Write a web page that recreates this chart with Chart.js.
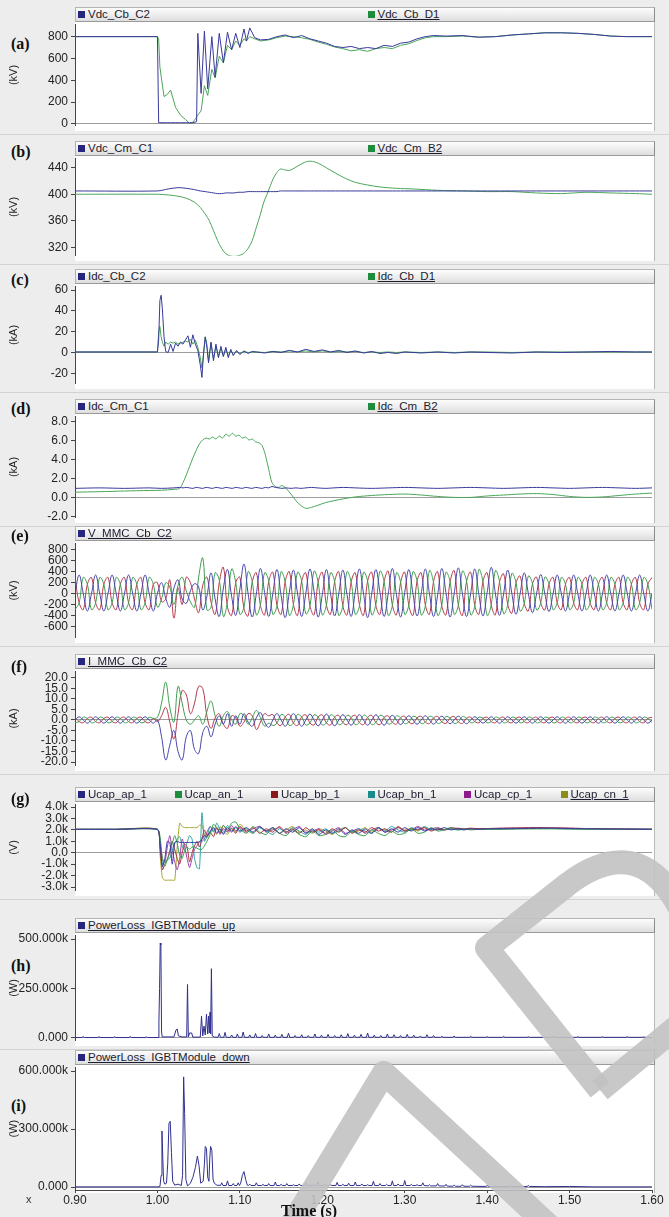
<!DOCTYPE html>
<html>
<head>
<meta charset="utf-8">
<script src="https://cdn.jsdelivr.net/npm/chart.js@4.4.1/dist/chart.umd.min.js"></script>
<style>
  body { margin: 0; background: #ececec; }
  #page { position: relative; width: 669px; height: 1217px; overflow: hidden; background: #ededed;
          font-family: "Liberation Sans", Arial, sans-serif; }
  .plotbg { position: absolute; left: 75px; width: 579px; background: #fff; border-right: 1px solid #b8b8b8; }
  .sep { position: absolute; left: 0; width: 669px; height: 1px; background: #d2d2d2; }
  .legend { position: absolute; left: 75px; width: 578px; height: 13px;
            background: linear-gradient(#fdfdfd, #dedede); border: 1px solid #b4b4b4;
            border-right-color: #8c8c8c; border-bottom-color: #9a9a9a; }
  .item { position: absolute; top: 0; font-size: 11.5px; line-height: 13px; color: #1c1c30; white-space: nowrap; }
  .item i { display: inline-block; width: 7px; height: 7px; margin-right: 3px; }
  .item.last span { text-decoration: underline; }
  .tag { position: absolute; left: 11px; font: bold 16px "Liberation Serif", "Times New Roman", serif; color: #111; }
  .box { position: absolute; left: 0; width: 669px; }
  .xmark { position: absolute; left: 26px; top: 1193px; font-size: 11px; color: #333; }
  .xtitle { position: absolute; left: 281px; top: 1203px; font: bold 16px/16px "Liberation Serif", "Times New Roman", serif; color: #111; }
  #stamp { position: absolute; left: 0; top: 0; pointer-events: none; }
</style>
</head>
<body>
<div id="page"></div>
<script>
// time axis (s)
const xTicks = [0.9, 1.0, 1.1, 1.2, 1.3, 1.4, 1.5, 1.6];
const xTickLabels = ['0.90', '1.00', '1.10', '1.20', '1.30', '1.40', '1.50', '1.60'];

// (a) DC voltage at Cb (kV)
const tA = [0.900, 1.000, 1.0015, 1.003, 1.008, 1.012, 1.016, 1.022, 1.028, 1.034,
  1.039, 1.043, 1.0475, 1.049, 1.053, 1.057, 1.061, 1.066, 1.070, 1.075,
  1.080, 1.085, 1.090, 1.095, 1.100, 1.105, 1.108, 1.112, 1.118, 1.125,
  1.135, 1.145, 1.155, 1.165, 1.175, 1.185, 1.195, 1.205, 1.215, 1.225,
  1.235, 1.245, 1.255, 1.265, 1.275, 1.285, 1.295, 1.305, 1.315, 1.325,
  1.335, 1.350, 1.370, 1.390, 1.410, 1.430, 1.450, 1.470, 1.490, 1.510,
  1.530, 1.550, 1.570, 1.600];
const vdcCbC2 = [800, 800, 10, 10, 10, 10, 10, 10, 10, 10,
  10, 10, 20, 830, 280, 850, 320, 800, 430, 830,
  560, 840, 680, 830, 700, 870, 760, 880, 790, 770,
  775, 800, 815, 790, 810, 780, 760, 740, 710, 700,
  710, 690, 700, 690, 720, 710, 740, 750, 780, 800,
  810, 805, 810, 795, 800, 815, 825, 835, 835, 830,
  820, 805, 800, 800];
const vdcCbD1 = [800, 800, 780, 520, 250, 270, 310, 150, 80, 40,
  5, 15, 60, 80, 120, 350, 260, 500, 420, 620,
  560, 720, 680, 760, 720, 780, 760, 800, 780, 760,
  770, 790, 805, 800, 790, 775, 750, 730, 705, 690,
  670, 680, 665, 690, 700, 690, 720, 735, 765, 790,
  800, 800, 805, 795, 800, 815, 825, 835, 835, 830,
  820, 805, 800, 800];
const ticksA = [0, 200, 400, 600, 800];
const tickLabelsA = ['0', '200', '400', '600', '800'];

// (b) DC voltage at Cm (kV)
const tB = [0.90, 1.00, 1.013, 1.025, 1.035, 1.045, 1.052, 1.058, 1.063, 1.068,
  1.073, 1.078, 1.083, 1.088, 1.093, 1.098, 1.104, 1.110, 1.115, 1.120,
  1.125, 1.129, 1.133, 1.137, 1.141, 1.145, 1.149, 1.154, 1.160, 1.168,
  1.178, 1.186, 1.195, 1.205, 1.216, 1.228, 1.240, 1.255, 1.27, 1.29,
  1.31, 1.34, 1.37, 1.40, 1.43, 1.46, 1.49, 1.52, 1.55, 1.58, 1.60];
const vdcCmC1 = [405, 405, 408, 410, 409, 407, 405, 404, 403, 402,
  401, 401, 402, 402, 402, 403, 403, 404, 404, 404,
  404, 404, 404, 404, 404, 404, 405, 405, 405, 405,
  405, 405, 405, 405, 405, 405, 405, 405, 405, 405,
  405, 405, 405, 405, 405, 405, 405, 405, 405, 405, 405];
const vdcCmB2 = [400, 400, 399, 397, 394, 388, 380, 370, 360, 345,
  330, 318, 310, 307, 306, 307, 310, 318, 330, 350,
  370, 388, 400, 413, 425, 433, 438, 437, 436, 441,
  448, 450, 447, 440, 432, 424, 418, 414, 411, 409,
  408, 406, 405, 404, 404, 402, 401, 403, 402, 401, 400];
const ticksB = [320, 360, 400, 440];
const tickLabelsB = ['320', '360', '400', '440'];

// (c) DC current at Cb (kA)
const tC = [0.900, 1.000, 1.0015, 1.003, 1.0045, 1.006, 1.008, 1.010, 1.013, 1.016,
  1.019, 1.022, 1.025, 1.028, 1.031, 1.034, 1.037, 1.040, 1.043, 1.046,
  1.049, 1.052, 1.054, 1.056, 1.058, 1.060, 1.062, 1.065, 1.068, 1.071,
  1.074, 1.077, 1.080, 1.083, 1.086, 1.089, 1.092, 1.096, 1.100, 1.105,
  1.110, 1.115, 1.120, 1.130, 1.140, 1.150, 1.160, 1.170, 1.180, 1.190,
  1.200, 1.210, 1.220, 1.230, 1.240, 1.250, 1.260, 1.270, 1.280, 1.290,
  1.300, 1.320, 1.340, 1.360, 1.380, 1.400, 1.430, 1.460, 1.490, 1.520,
  1.550, 1.580, 1.600];
const idcCbC2 = [0.5, 0.5, 12, 50, 55, 42, 15, 1, 0, 8,
  1, 9, 6, 10, 8, 12, 16, 5, 17, 8,
  2, -12, -24, 0, 15, 5, -10, 10, -8, 8,
  -5, 6, -4, 5, -5, 3, -3, 2, -2, 1.5,
  -1, 1, 0.5, -0.5, 1, 0, 2, 0.5, 3, 1,
  2.5, 0.5, 2, 0, 1.5, -0.5, 1, -1, 0, -1,
  0.5, -0.5, 0.5, -0.5, 0.5, 0, -0.5, 0.5, 0, 0.5,
  1, 0.5, 0.5];
const idcCbD1 = [0.5, 0.5, 20, 25, 15, 10, 6, 10, 8, 10,
  9, 10, 8, 9, 10, 11, 10, 13, 8, 12,
  5, -5, -15, -2, 15, 8, -8, 9, -6, 6,
  -4, 4, -3, 3, -3, 2, -2, 1, -1, 1,
  0, 0.5, 0.5, 0, 1, 0.5, 1.5, 0.5, 1.5, 0.5,
  1.5, 0.5, 1, 0.5, 1, 0, 0.5, 0, 0.5, 0,
  0.5, 0, 0.5, 0, 0.5, 0.5, 0, 0.5, 0.5, 0.5,
  0.5, 0.5, 0.5];
const ticksC = [-20, 0, 20, 40, 60];
const tickLabelsC = ['-20', '0', '20', '40', '60'];

// (d) DC current at Cm (kA)
const tD = [0.90, 0.93, 0.96, 0.99, 1.005, 1.020, 1.027, 1.031, 1.035, 1.039,
  1.043, 1.047, 1.051, 1.055, 1.059, 1.063, 1.067, 1.071, 1.075, 1.079,
  1.083, 1.087, 1.091, 1.095, 1.099, 1.103, 1.107, 1.111, 1.115, 1.119,
  1.123, 1.127, 1.131, 1.135, 1.139, 1.143, 1.147, 1.151, 1.156, 1.162,
  1.168, 1.174, 1.180, 1.187, 1.194, 1.204, 1.214, 1.226, 1.24, 1.26,
  1.28, 1.30, 1.32, 1.34, 1.36, 1.38, 1.40, 1.42, 1.44, 1.46,
  1.48, 1.50, 1.52, 1.54, 1.56, 1.58, 1.60];
const idcCmC1 = [1.0, 1.05, 1.0, 1.05, 1.0, 1.05, 1.1, 1.05, 1.1, 1.05,
  1.0, 1.1, 1.05, 1.0, 1.1, 1.05, 1.0, 1.1, 1.05, 1.0,
  1.1, 1.05, 1.0, 1.1, 1.05, 1.0, 1.1, 1.05, 1.0, 1.1,
  1.05, 1.0, 1.1, 1.05, 1.2, 1.1, 1.05, 1.0, 1.05, 1.0,
  1.05, 1.0, 1.05, 1.1, 1.05, 1.0, 1.05, 1.1, 1.05, 1.0,
  1.05, 1.1, 1.05, 1.0, 1.05, 1.1, 1.05, 1.0, 1.05, 1.1,
  1.05, 1.0, 1.05, 1.1, 1.05, 1.0, 1.05];
const idcCmB2 = [0.6, 0.65, 0.72, 0.78, 0.8, 0.9, 1.0, 1.6, 2.4, 3.3,
  4.2, 5.0, 5.7, 6.1, 6.3, 6.2, 6.4, 6.2, 6.5, 6.3,
  6.7, 6.5, 6.8, 6.5, 6.6, 6.3, 6.4, 6.1, 6.2, 5.9,
  5.8, 5.5, 4.5, 3.0, 1.6, 1.2, 1.1, 1.3, 1.0, 0.4,
  -0.3, -0.8, -1.1, -1.0, -0.8, -0.5, -0.3, -0.1, 0.1, 0.25,
  0.35, 0.4, 0.3, 0.15, 0.05, 0.05, 0.2, 0.3, 0.4, 0.45,
  0.35, 0.15, 0.05, 0.1, 0.25, 0.4, 0.5];
const ticksD = [-2, 0, 2, 4, 6, 8];
const tickLabelsD = ['-2.0', '0.0', '2.0', '4.0', '6.0', '8.0'];

// (e), (f) three-phase AC quantities, sampled every 5 ms
const tAC = [0.900, 0.905, 0.910, 0.915, 0.920, 0.925, 0.930, 0.935, 0.940, 0.945,
  0.950, 0.955, 0.960, 0.965, 0.970, 0.975, 0.980, 0.985, 0.990, 0.995,
  1.000, 1.005, 1.010, 1.015, 1.020, 1.025, 1.030, 1.035, 1.040, 1.045,
  1.050, 1.055, 1.060, 1.065, 1.070, 1.075, 1.080, 1.085, 1.090, 1.095,
  1.100, 1.105, 1.110, 1.115, 1.120, 1.125, 1.130, 1.135, 1.140, 1.145,
  1.150, 1.155, 1.160, 1.165, 1.170, 1.175, 1.180, 1.185, 1.190, 1.195,
  1.200, 1.205, 1.210, 1.215, 1.220, 1.225, 1.230, 1.235, 1.240, 1.245,
  1.250, 1.255, 1.260, 1.265, 1.270, 1.275, 1.280, 1.285, 1.290, 1.295,
  1.300, 1.305, 1.310, 1.315, 1.320, 1.325, 1.330, 1.335, 1.340, 1.345,
  1.350, 1.355, 1.360, 1.365, 1.370, 1.375, 1.380, 1.385, 1.390, 1.395,
  1.400, 1.405, 1.410, 1.415, 1.420, 1.425, 1.430, 1.435, 1.440, 1.445,
  1.450, 1.455, 1.460, 1.465, 1.470, 1.475, 1.480, 1.485, 1.490, 1.495,
  1.500, 1.505, 1.510, 1.515, 1.520, 1.525, 1.530, 1.535, 1.540, 1.545,
  1.550, 1.555, 1.560, 1.565, 1.570, 1.575, 1.580, 1.585, 1.590, 1.595,
  1.600];

// (e) V_MMC_Cb_C2 (kV)
const vMmcA = [0, 340, 0, -320, 0, 340, 0, -320, 0, 340, 0, -320, 0, 340, 0, -320, 0, 340, 0, -320,
  0, 200, -80, -250, 100, 250, -100, -180, 50, 180, 120, -300, -50, 380, -100, -420, 100, 440, -50, -400,
  80, 540, 0, -430, 0, 460, 20, -420, 0, 440, -30, -440, 20, 430, 0, -420, 0, 450, 40, -430,
  -20, 440, 0, -410, 0, 430, -20, -420, 30, 450, 0, -440, 0, 440, 20, -420, 0, 460, -20, -430,
  20, 440, 0, -410, 0, 450, 0, -420, -20, 460, 20, -430, 0, 470, 0, -420, 0, 450, -20, -410,
  20, 480, 0, -400, 0, 430, 0, -380, 0, 380, 0, -350, 0, 350, 0, -330, 0, 340, 0, -320,
  0, 340, 0, -320, 0, 340, 0, -320, 0, 340, 0, -320, 0, 340, 0, -320, 0, 340, 0, -320,
  0];
const vMmcB = [-295, -170, 295, 170, -295, -170, 295, 170, -295, -170, 295, 170, -295, -170, 295, 170, -295, -170, 295, 170,
  -250, -100, 200, 120, -200, 150, 300, 50, -150, -250, 300, 650, -300, -250, 380, 250, -420, -150, 450, 200,
  -380, -250, 400, 220, -390, -200, 380, 230, -380, -230, 400, 210, -400, -200, 390, 230, -370, -230, 410, 200,
  -390, -210, 380, 220, -400, -220, 400, 210, -380, -230, 390, 230, -390, -200, 410, 220, -400, -220, 380, 210,
  -380, -210, 400, 230, -390, -230, 420, 200, -400, -210, 390, 220, -380, -220, 410, 230, -390, -230, 440, 210,
  -400, -200, 420, 220, -370, -200, 370, 200, -320, -180, 320, 185, -300, -170, 300, 175, -295, -170, 295, 170,
  -295, -170, 295, 170, -295, -170, 295, 170, -295, -170, 295, 170, -295, -170, 295, 170, -295, -170, 295, 170,
  -295];
const vMmcC = [295, -170, -295, 170, 295, -170, -295, 170, 295, -170, -295, 170, 295, -170, -295, 170, 295, -170, -295, 170,
  200, -150, -100, 250, -450, 100, -200, 300, 200, -100, -350, 150, 300, -150, -380, 200, 480, -250, -400, 200,
  300, -280, -410, 210, 380, -220, -390, 220, 390, -210, -380, 220, 400, -200, -400, 230, 380, -220, -390, 210,
  390, -210, -380, 220, 400, -230, -390, 210, 380, -200, -400, 230, 390, -220, -380, 220, 410, -210, -390, 200,
  390, -220, -400, 230, 380, -210, -380, 220, 400, -230, -390, 210, 420, -200, -400, 220, 390, -220, -380, 230,
  380, -210, -390, 210, 360, -200, -360, 190, 320, -180, -320, 175, 300, -170, -300, 170, 295, -170, -295, 170,
  295, -170, -295, 170, 295, -170, -295, 170, 295, -170, -295, 170, 295, -170, -295, 170, 295, -170, -295, 170,
  295];
const ticksE = [-600, -400, -200, 0, 200, 400, 600, 800];
const tickLabelsE = ['-600', '-400', '-200', '0', '200', '400', '600', '800'];

// (f) I_MMC_Cb_C2 (kA)
const iMmcA = [0, 1.5, 0, -1.5, 0, 1.5, 0, -1.5, 0, 1.5, 0, -1.5, 0, 1.5, 0, -1.5, 0, 1.5, 0, -1.5,
  0, -8, -19, -12, -5, -15, -19, -8, -5, -14, -16, -6, -3, -8, -2, 2, -2, 3, -3, 2,
  -2, 3, -1, -3, 1, 3.5, -1, -3.5, 0, 3, 0, -3, 0, 3, 0, -3, 0, 2.8, 0, -2.8,
  0, 2.8, 0, -2.8, 0, 2.5, 0, -2.5, 0, 2.5, 0, -2.5, 0, 2.5, 0, -2.5, 0, 2.2, 0, -2.2,
  0, 2, 0, -2, 0, 2, 0, -2, 0, 1.8, 0, -1.8, 0, 1.8, 0, -1.8, 0, 1.5, 0, -1.5,
  0, 1.5, 0, -1.5, 0, 1.5, 0, -1.5, 0, 1.5, 0, -1.5, 0, 1.5, 0, -1.5, 0, 1.5, 0, -1.5,
  0, 1.5, 0, -1.5, 0, 1.5, 0, -1.5, 0, 1.5, 0, -1.5, 0, 1.5, 0, -1.5, 0, 1.5, 0, -1.5,
  0];
const iMmcB = [-1.3, -0.75, 1.3, 0.75, -1.3, -0.75, 1.3, 0.75, -1.3, -0.75, 1.3, 0.75, -1.3, -0.75, 1.3, 0.75, -1.3, -0.75, 1.3, 0.75,
  1.3, 8, 18, 6, -1, 16, 8, 0, -2, 0, 2, -2, 4, 9, 2, -3, 2, 4, 0, -2,
  3, 2, -2, 1, 4.5, 1, -3, -1.5, -2.6, -1.5, 2.6, 1.5, -2.6, -1.5, 2.6, 1.5, -2.4, -1.4, 2.4, 1.4,
  -2.4, -1.4, 2.4, 1.4, -2.2, -1.25, 2.2, 1.25, -2.2, -1.25, 2.2, 1.25, -2.2, -1.25, 2.2, 1.25, -1.9, -1.1, 1.9, 1.1,
  -1.7, -1, 1.7, 1, -1.7, -1, 1.7, 1, -1.6, -0.9, 1.6, 0.9, -1.6, -0.9, 1.6, 0.9, -1.3, -0.75, 1.3, 0.75,
  -1.3, -0.75, 1.3, 0.75, -1.3, -0.75, 1.3, 0.75, -1.3, -0.75, 1.3, 0.75, -1.3, -0.75, 1.3, 0.75, -1.3, -0.75, 1.3, 0.75,
  -1.3, -0.75, 1.3, 0.75, -1.3, -0.75, 1.3, 0.75, -1.3, -0.75, 1.3, 0.75, -1.3, -0.75, 1.3, 0.75, -1.3, -0.75, 1.3, 0.75,
  -1.3];
const iMmcC = [1.3, -0.75, -1.3, 0.75, 1.3, -0.75, -1.3, 0.75, 1.3, -0.75, -1.3, 0.75, 1.3, -0.75, -1.3, 0.75, 1.3, -0.75, -1.3, 0.75,
  -0.8, 2, 6, -1, -9, 3, 14, 12, 3, 8, 16, 15, 2, -4, 1, 3, -2, -4, 2, 1,
  -3, -1, 3, 2, -4.5, -1, 3, 2, 2.6, -1.5, -2.6, 1.5, 2.6, -1.5, -2.6, 1.5, 2.4, -1.4, -2.4, 1.4,
  2.4, -1.4, -2.4, 1.4, 2.2, -1.25, -2.2, 1.25, 2.2, -1.25, -2.2, 1.25, 2.2, -1.25, -2.2, 1.25, 1.9, -1.1, -1.9, 1.1,
  1.7, -1, -1.7, 1, 1.7, -1, -1.7, 1, 1.6, -0.9, -1.6, 0.9, 1.6, -0.9, -1.6, 0.9, 1.3, -0.75, -1.3, 0.75,
  1.3, -0.75, -1.3, 0.75, 1.3, -0.75, -1.3, 0.75, 1.3, -0.75, -1.3, 0.75, 1.3, -0.75, -1.3, 0.75, 1.3, -0.75, -1.3, 0.75,
  1.3, -0.75, -1.3, 0.75, 1.3, -0.75, -1.3, 0.75, 1.3, -0.75, -1.3, 0.75, 1.3, -0.75, -1.3, 0.75, 1.3, -0.75, -1.3, 0.75,
  1.3];
const ticksF = [-20, -15, -10, -5, 0, 5, 10, 15, 20];
const tickLabelsF = ['-20.0', '-15.0', '-10.0', '-5.0', '0.0', '5.0', '10.0', '15.0', '20.0'];

// (g) sub-module capacitor voltages (values in kV, axis labelled in V with k suffix)
const tG = [0.90, 0.95, 1.000, 1.003, 1.006, 1.009, 1.012, 1.015, 1.018, 1.021,
  1.024, 1.027, 1.030, 1.033, 1.036, 1.039, 1.042, 1.045, 1.048, 1.051,
  1.054, 1.057, 1.060, 1.064, 1.068, 1.072, 1.076, 1.080, 1.085, 1.090,
  1.095, 1.100, 1.108, 1.116, 1.124, 1.132, 1.140, 1.148, 1.156, 1.164,
  1.172, 1.180, 1.188, 1.196, 1.204, 1.212, 1.220, 1.228, 1.236, 1.244,
  1.252, 1.260, 1.268, 1.276, 1.284, 1.292, 1.300, 1.308, 1.316, 1.324,
  1.332, 1.340, 1.348, 1.356, 1.364, 1.372, 1.380, 1.390, 1.40, 1.42,
  1.44, 1.46, 1.48, 1.50, 1.52, 1.55, 1.60];
const ucapAp = [2.05, 2.05, 2.05, 1.0, -1.2, -0.5, 1.0, 0.9, -1.0, 0.9,
  1.0, 0.9, 0.9, 0.9, 0.9, 0.9, 0.9, 0.9, 0.9, 0.95,
  1.2, 1.5, 1.4, 1.9, 2.2, 1.7, 2.1, 1.6, 2.2, 1.8,
  2.3, 1.9, 2.2, 1.8, 2.3, 1.9, 2.2, 1.7, 2.1, 1.8,
  2.2, 1.7, 2.1, 1.6, 2.0, 1.7, 2.1, 1.6, 2.0, 1.7,
  2.1, 1.7, 2.2, 1.8, 2.1, 1.8, 2.2, 1.9, 2.2, 1.9,
  2.1, 2.0, 2.2, 2.0, 2.1, 2.0, 2.1, 2.05, 2.1, 2.1,
  2.12, 2.15, 2.15, 2.12, 2.1, 2.08, 2.05];
const ucapAn = [2.05, 2.05, 2.05, 1.5, -0.5, -1.2, -0.6, 0.0, 0.8, 1.5,
  0.8, -0.2, -0.5, 0.2, 0.5, 0.3, 0.5, 0.5, 0.4, 0.3,
  0.3, 0.6, 1.0, 1.6, 2.5, 2.2, 1.8, 2.4, 2.0, 2.6,
  2.7, 2.1, 1.7, 2.3, 1.8, 1.6, 2.2, 1.7, 1.5, 2.0,
  1.6, 1.4, 1.9, 1.5, 1.6, 2.0, 1.5, 1.4, 1.9, 1.6,
  1.5, 2.0, 1.7, 1.5, 1.9, 1.6, 1.7, 2.1, 1.7, 1.8,
  2.2, 1.9, 2.0, 2.2, 2.0, 2.1, 2.0, 2.05, 2.05, 2.08,
  2.1, 2.12, 2.12, 2.1, 2.08, 2.06, 2.05];
const ucapBp = [2.05, 2.05, 2.05, 0.5, -1.5, -1.0, -0.6, 0.2, 1.0, 0.3,
  -0.5, -1.0, 0.0, 0.8, 0.5, -0.8, 0.0, 0.6, 1.0, 0.5,
  1.2, 2.0, 1.5, 1.8, 1.4, 2.2, 1.7, 2.4, 1.9, 2.1,
  1.7, 2.3, 1.9, 2.2, 1.7, 2.1, 1.8, 2.3, 1.8, 2.1,
  1.7, 2.2, 1.8, 2.0, 1.7, 2.1, 1.8, 2.2, 1.7, 2.0,
  1.8, 2.2, 1.9, 2.1, 1.8, 2.3, 1.9, 2.1, 2.0, 2.2,
  1.9, 2.1, 2.0, 2.2, 2.1, 2.1, 2.15, 2.1, 2.12, 2.15,
  2.18, 2.2, 2.18, 2.15, 2.12, 2.08, 2.05];
const ucapBn = [2.05, 2.05, 2.05, 0.8, -1.0, -0.8, -0.6, -0.5, 0.2, 0.8,
  1.2, 1.4, 0.6, 0.2, 0.9, 1.5, 1.2, -0.5, -1.3, -1.4,
  3.5, 1.0, 1.4, 2.3, 1.8, 2.6, 2.0, 1.7, 2.4, 1.9,
  2.2, 1.8, 2.1, 1.7, 2.2, 1.9, 1.6, 2.1, 1.8, 2.2,
  1.9, 1.6, 2.0, 1.8, 2.1, 1.7, 1.9, 2.2, 1.8, 2.1,
  1.9, 1.7, 2.2, 1.9, 2.3, 2.0, 1.8, 2.2, 2.0, 2.3,
  2.0, 2.1, 2.0, 2.1, 2.0, 2.05, 2.1, 2.05, 2.05, 2.08,
  2.1, 2.1, 2.1, 2.08, 2.06, 2.05, 2.05];
const ucapCp = [2.05, 2.05, 2.05, 0.9, -0.5, -0.8, 0.5, 1.5, 0.2, -0.8,
  -1.5, -0.5, 1.2, 0.5, -0.5, -1.3, -0.5, 0.3, 0.6, 1.0,
  1.0, 1.2, 1.8, 2.3, 1.9, 2.2, 1.6, 2.1, 1.8, 2.4,
  1.9, 2.2, 1.8, 2.1, 2.3, 1.8, 2.0, 2.2, 1.7, 2.0,
  2.3, 1.8, 1.9, 2.1, 1.6, 1.9, 2.2, 1.7, 1.9, 2.1,
  1.7, 2.0, 2.2, 1.8, 2.0, 2.2, 1.9, 2.0, 2.3, 2.0,
  2.1, 2.2, 2.0, 2.1, 2.15, 2.1, 2.1, 2.12, 2.12, 2.15,
  2.17, 2.18, 2.17, 2.15, 2.12, 2.1, 2.07];
const ucapCn = [2.05, 2.05, 2.05, 0.0, -2.2, -2.4, -2.4, -2.4, -2.4, -2.4,
  0.5, 2.6, 2.3, 2.2, 2.2, 2.2, 2.2, 2.2, 2.2, 2.4,
  2.4, 1.6, 1.3, 1.8, 2.1, 1.6, 2.3, 1.9, 1.6, 2.2,
  1.8, 2.5, 2.0, 1.7, 2.2, 1.9, 2.1, 1.7, 2.0, 2.3,
  1.8, 2.0, 1.7, 2.1, 1.9, 1.6, 2.0, 2.2, 1.8, 1.9,
  2.2, 1.8, 2.1, 2.0, 1.8, 2.2, 2.0, 2.1, 1.9, 2.2,
  2.0, 2.1, 2.05, 2.1, 2.05, 2.1, 2.05, 2.05, 2.05, 2.08,
  2.1, 2.1, 2.1, 2.08, 2.06, 2.05, 2.05];
const ticksG = [-3, -2, -1, 0, 1, 2, 3, 4];
const tickLabelsG = ['-3.0k', '-2.0k', '-1.0k', '0.0', '1.0k', '2.0k', '3.0k', '4.0k'];

// (h) IGBT module loss, upper arm: [time s, power kW]
const lossUpPts = [[0.900, 2], [0.9085, 2], [0.910, 7], [0.9115, 2], [0.9275, 2], [0.929, 6], [0.9305, 2],
  [0.9465, 2], [0.948, 6], [0.9495, 2], [0.9655, 2], [0.967, 7], [0.9685, 2], [0.985, 2], [0.9865, 5], [0.988, 2],
  [1.001, 2], [1.0018, 80], [1.0026, 250], [1.0034, 480], [1.0042, 470], [1.005, 30], [1.0058, 5],
  [1.020, 5], [1.0225, 40], [1.024, 45], [1.0255, 10], [1.030, 5],
  [1.0355, 5], [1.0365, 270], [1.0375, 5], [1.039, 25], [1.0415, 25], [1.043, 4],
  [1.052, 4], [1.0535, 110], [1.055, 10], [1.0565, 60], [1.058, 15], [1.0595, 120], [1.061, 20], [1.062, 110],
  [1.063, 25], [1.0638, 130], [1.0645, 20], [1.0655, 350], [1.0665, 10], [1.069, 4],
  [1.0735, 3], [1.075, 22], [1.0765, 3], [1.0805, 3], [1.082, 28], [1.0835, 3], [1.0885, 3], [1.090, 15], [1.0915, 3],
  [1.0955, 3], [1.097, 20], [1.0985, 3], [1.1025, 3], [1.104, 30], [1.1055, 3], [1.1105, 3], [1.112, 15], [1.1135, 3],
  [1.1175, 3], [1.119, 22], [1.1205, 3], [1.1255, 3], [1.127, 12], [1.1285, 3], [1.1335, 3], [1.135, 20], [1.1365, 3],
  [1.1415, 3], [1.143, 14], [1.1445, 3], [1.1495, 3], [1.151, 18], [1.1525, 3], [1.1575, 3], [1.159, 24], [1.1605, 3],
  [1.1655, 3], [1.167, 12], [1.1685, 3], [1.1735, 3], [1.175, 16], [1.1765, 3], [1.1815, 3], [1.183, 12], [1.1845, 3],
  [1.1895, 3], [1.191, 20], [1.1925, 3], [1.1975, 3], [1.199, 14], [1.2005, 3], [1.2055, 3], [1.207, 18], [1.2085, 3],
  [1.2135, 3], [1.215, 12], [1.2165, 3], [1.2215, 3], [1.223, 16], [1.2245, 3], [1.2295, 3], [1.231, 22], [1.2325, 3],
  [1.2375, 3], [1.239, 14], [1.2405, 3], [1.2455, 3], [1.247, 18], [1.2485, 3], [1.2535, 3], [1.255, 25], [1.2565, 3],
  [1.2615, 3], [1.263, 14], [1.2645, 3], [1.2695, 3], [1.271, 12], [1.2725, 3], [1.2775, 3], [1.279, 20], [1.2805, 3],
  [1.2855, 3], [1.287, 16], [1.2885, 3], [1.2935, 3], [1.295, 12], [1.2965, 3], [1.3015, 3], [1.303, 18], [1.3045, 3],
  [1.3095, 3], [1.311, 14], [1.3125, 3], [1.3175, 3], [1.319, 10], [1.3205, 3], [1.3255, 3], [1.327, 16], [1.3285, 3],
  [1.3335, 3], [1.335, 12], [1.3365, 3], [1.3435, 3], [1.345, 8], [1.3465, 3], [1.3585, 3], [1.360, 10], [1.3615, 3],
  [1.3785, 3], [1.380, 8], [1.3815, 3], [1.3985, 3], [1.400, 6], [1.4015, 3], [1.4185, 3], [1.420, 8], [1.4215, 3],
  [1.4485, 3], [1.450, 6], [1.4515, 3], [1.4785, 3], [1.480, 8], [1.4815, 3], [1.5085, 3], [1.510, 6], [1.5115, 3],
  [1.5385, 3], [1.540, 6], [1.5415, 3], [1.5685, 3], [1.570, 6], [1.5715, 3], [1.5885, 3], [1.590, 5], [1.5915, 3],
  [1.600, 2]];
const ticksH = [0, 250, 500];
const tickLabelsH = ['0.000', '250.000k', '500.000k'];

// (i) IGBT module loss, lower arm: [time s, power kW]
const lossDownPts = [[0.900, 1], [0.999, 1], [1.003, 2], [1.0045, 60], [1.0055, 290], [1.0065, 150], [1.0075, 30],
  [1.009, 15], [1.011, 20], [1.0125, 120], [1.014, 330], [1.0155, 340], [1.017, 180], [1.0185, 30], [1.021, 10],
  [1.025, 15], [1.029, 8], [1.0305, 60], [1.0318, 570], [1.033, 380], [1.0345, 40], [1.0365, 5], [1.040, 20],
  [1.043, 50], [1.046, 100], [1.0485, 160], [1.0505, 110], [1.0525, 20], [1.0555, 30], [1.057, 120], [1.058, 210],
  [1.0595, 200], [1.061, 50], [1.0625, 30], [1.0635, 150], [1.0645, 210], [1.066, 190], [1.0675, 40], [1.069, 20],
  [1.072, 10], [1.0765, 8], [1.078, 22], [1.0795, 8], [1.0835, 8], [1.085, 32], [1.0865, 8], [1.0905, 8], [1.092, 18],
  [1.0935, 8], [1.0965, 8], [1.098, 22], [1.0995, 8], [1.101, 20], [1.103, 60], [1.105, 80], [1.107, 40], [1.109, 10],
  [1.1105, 8], [1.112, 15], [1.1135, 8], [1.1185, 8], [1.120, 22], [1.1215, 8], [1.1265, 8], [1.128, 14], [1.1295, 8],
  [1.1335, 8], [1.135, 18], [1.1365, 8], [1.1415, 8], [1.143, 26], [1.1445, 8], [1.1485, 8], [1.150, 14], [1.1515, 8],
  [1.1555, 8], [1.157, 18], [1.1585, 8], [1.1635, 8], [1.165, 12], [1.1665, 8], [1.1705, 8], [1.172, 16], [1.1735, 8],
  [1.1785, 8], [1.180, 22], [1.1815, 8], [1.1865, 8], [1.188, 14], [1.1895, 8], [1.1935, 8], [1.195, 26], [1.1965, 8],
  [1.2015, 8], [1.203, 16], [1.2045, 8], [1.2085, 8], [1.210, 12], [1.2115, 8], [1.2165, 8], [1.218, 24], [1.2195, 8],
  [1.2235, 8], [1.225, 14], [1.2265, 8], [1.2305, 8], [1.232, 20], [1.2335, 8], [1.2385, 8], [1.240, 26], [1.2415, 8],
  [1.2465, 8], [1.248, 16], [1.2495, 8], [1.2535, 8], [1.255, 12], [1.2565, 8], [1.2605, 8], [1.262, 30], [1.2635, 8],
  [1.2685, 8], [1.270, 18], [1.2715, 8], [1.2765, 8], [1.278, 14], [1.2795, 8], [1.2835, 8], [1.285, 32], [1.2865, 8],
  [1.2905, 8], [1.292, 16], [1.2935, 8], [1.2985, 8], [1.300, 34], [1.3015, 8], [1.3065, 8], [1.308, 14], [1.3095, 8],
  [1.3135, 8], [1.315, 12], [1.3165, 8], [1.3205, 8], [1.322, 22], [1.3235, 8], [1.3285, 6], [1.330, 12], [1.3315, 6],
  [1.3385, 6], [1.340, 18], [1.3415, 6], [1.3485, 5], [1.350, 14], [1.3515, 5], [1.3585, 4], [1.360, 10], [1.3615, 4],
  [1.3685, 4], [1.370, 12], [1.3715, 4], [1.3785, 4], [1.380, 10], [1.3815, 4], [1.3985, 3], [1.400, 8], [1.4015, 3],
  [1.4285, 3], [1.430, 10], [1.4315, 3], [1.4485, 3], [1.450, 8], [1.4515, 3], [1.470, 2], [1.500, 3], [1.530, 1],
  [1.600, 1]];
const ticksI = [0, 300, 600];
const tickLabelsI = ['0.000', '300.000k', '600.000k'];

const navy = '#3a3a9c', navyKey = '#26267e';
const green = '#4ba65a', greenKey = '#1d8c3c';

// page layout: plot box (px) and y range for each panel
const panels = [
  { tag: '(a)', tagY: 45, top: 22, bottom: 128, min: -18, max: 914, unit: '(kV)', ticks: ticksA, labels: tickLabelsA,
    times: tA, tension: 0, series: [
      { name: 'Vdc_Cb_C2', values: vdcCbC2, color: navy, key: navyKey, slot: 0 },
      { name: 'Vdc_Cb_D1', values: vdcCbD1, color: green, key: greenKey, slot: 3 }] },
  { tag: '(b)', tagY: 153, top: 156, bottom: 258, min: 307, max: 454.5, unit: '(kV)', ticks: ticksB, labels: tickLabelsB,
    times: tB, tension: 0.3, series: [
      { name: 'Vdc_Cm_C1', values: vdcCmC1, color: navy, key: navyKey, slot: 0 },
      { name: 'Vdc_Cm_B2', values: vdcCmB2, color: green, key: greenKey, slot: 3 }] },
  { tag: '(c)', tagY: 281, top: 284, bottom: 386, min: -30.1, max: 63.7, unit: '(kA)', ticks: ticksC, labels: tickLabelsC,
    times: tC, tension: 0, series: [
      { name: 'Idc_Cb_C2', values: idcCbC2, color: navy, key: navyKey, slot: 0 },
      { name: 'Idc_Cb_D1', values: idcCbD1, color: green, key: greenKey, slot: 3 }] },
  { tag: '(d)', tagY: 410, top: 414, bottom: 520, min: -2.1, max: 8.6, unit: '(kA)', ticks: ticksD, labels: tickLabelsD,
    times: tD, tension: 0.3, series: [
      { name: 'Idc_Cm_C1', values: idcCmC1, color: navy, key: navyKey, slot: 0 },
      { name: 'Idc_Cm_B2', values: idcCmB2, color: green, key: greenKey, slot: 3 }] },
  { tag: '(e)', tagY: 537, top: 541, bottom: 640, min: -810, max: 922, unit: '(kV)', ticks: ticksE, labels: tickLabelsE,
    times: tAC, tension: 0.4, legend: [{ name: 'V_MMC_Cb_C2', key: navyKey, slot: 0 }], series: [
      { values: vMmcA, color: '#4646aa' },
      { values: vMmcB, color: '#3f9f50' },
      { values: vMmcC, color: '#b83a4c' }] },
  { tag: '(f)', tagY: 668, top: 669, bottom: 768, min: -21.8, max: 23.2, unit: '(kA)', ticks: ticksF, labels: tickLabelsF,
    times: tAC, tension: 0.4, legend: [{ name: 'I_MMC_Cb_C2', key: navyKey, slot: 0 }], series: [
      { values: iMmcA, color: '#4646aa' },
      { values: iMmcB, color: '#3f9f50' },
      { values: iMmcC, color: '#b83a4c' }] },
  { tag: '(g)', tagY: 800, top: 802, bottom: 893, min: -3.33, max: 4.25, unit: '(V)', ticks: ticksG, labels: tickLabelsG,
    times: tG, tension: 0.2, series: [
      { name: 'Ucap_ap_1', values: ucapAp, color: '#3a3aa0', key: '#26267e', slot: 0 },
      { name: 'Ucap_an_1', values: ucapAn, color: '#3aa050', key: '#1d8c3c', slot: 1 },
      { name: 'Ucap_bp_1', values: ucapBp, color: '#a8303e', key: '#8a1a1a', slot: 2 },
      { name: 'Ucap_bn_1', values: ucapBn, color: '#2ea6a6', key: '#188c8c', slot: 3 },
      { name: 'Ucap_cp_1', values: ucapCp, color: '#a03ea8', key: '#8c1a8c', slot: 4 },
      { name: 'Ucap_cn_1', values: ucapCn, color: '#a6a632', key: '#8c8c1a', slot: 5 }] },
  { tag: '(h)', tagY: 967, top: 933, bottom: 1043, min: -14.6, max: 519.4, unit: '(W)', ticks: ticksH, labels: tickLabelsH,
    tension: 0, series: [
      { name: 'PowerLoss_IGBTModule_up', pts: lossUpPts, color: '#30308e', key: navyKey, slot: 0 }] },
  { tag: '(i)', tagY: 1107, top: 1065, bottom: 1190, min: -15.3, max: 620.3, unit: '(W)', ticks: ticksI, labels: tickLabelsI,
    tension: 0, series: [
      { name: 'PowerLoss_IGBTModule_down', pts: lossDownPts, color: '#30308e', key: navyKey, slot: 0 }] }
];

const page = document.getElementById('page');
const tickFont = { family: 'Liberation Sans', size: 12 };

function addDiv(cls, css, html) {
  const d = document.createElement('div');
  d.className = cls;
  Object.assign(d.style, css);
  if (html) d.innerHTML = html;
  page.appendChild(d);
  return d;
}

panels.forEach((p, n) => {
  const isLast = n === panels.length - 1;

  addDiv('plotbg', { top: p.top + 'px', height: (p.bottom - p.top + 3) + 'px' });
  if (!isLast) addDiv('sep', { top: (p.bottom + 6) + 'px' });

  const legend = addDiv('legend', { top: (p.top - 15) + 'px' });
  const keys = p.legend || p.series;
  keys.forEach((s, k) => {
    const it = document.createElement('div');
    it.className = 'item' + (k === keys.length - 1 ? ' last' : '');
    it.style.left = (2 + s.slot * 96.5) + 'px';
    it.innerHTML = '<i style="background:' + s.key + '"></i><span>' + s.name + '</span>';
    legend.appendChild(it);
  });

  addDiv('tag', { top: (p.tagY - 10) + 'px' }, p.tag);

  const padTop = 8, padBottom = isLast ? 0 : 8;
  const canvasTop = p.top - padTop;
  const h = isLast ? 1217 - canvasTop : (p.bottom - p.top) + padTop + padBottom;
  const box = addDiv('box', { top: canvasTop + 'px', height: h + 'px' });
  const canvas = document.createElement('canvas');
  box.appendChild(canvas);

  const datasets = p.series.map(s => ({
    label: s.name || '',
    data: s.pts ? s.pts.map(([x, y]) => ({ x, y })) : p.times.map((x, i) => ({ x, y: s.values[i] })),
    borderColor: s.color,
    borderWidth: 1,
    pointRadius: 0,
    tension: p.tension,
    fill: false
  }));

  const xScale = {
    type: 'linear', min: 0.9, max: 1.6, display: isLast, bounds: 'data',
    afterBuildTicks: sc => { sc.ticks = xTicks.map(v => ({ value: v })); },
    ticks: { autoSkip: false, maxRotation: 0, font: tickFont, color: '#222', padding: 0,
             callback: (v, i) => xTickLabels[i] },
    grid: { drawOnChartArea: false, tickLength: 3, tickColor: '#444' },
    border: { color: '#444' }
  };
  if (isLast) xScale.afterFit = sc => { sc.height = 27; };

  new Chart(canvas, {
    type: 'line',
    data: { datasets },
    options: {
      responsive: true,
      maintainAspectRatio: false,
      animation: false,
      layout: { padding: { top: padTop, bottom: padBottom, left: 0, right: 17 } },
      plugins: { legend: { display: false }, tooltip: { enabled: false } },
      scales: {
        x: xScale,
        y: {
          min: p.min, max: p.max, bounds: 'data',
          afterBuildTicks: sc => { sc.ticks = p.ticks.map(v => ({ value: v })); },
          afterFit: sc => { sc.width = 75; },
          ticks: { autoSkip: false, font: tickFont, color: '#222', padding: 3,
                   callback: (v, i) => p.labels[i] },
          grid: {
            drawOnChartArea: true,
            color: c => (c.tick && c.tick.value === 0) ? '#9c9c9c' : 'rgba(0,0,0,0)',
            tickColor: '#444', tickLength: 4
          },
          border: { color: '#444' },
          title: { display: true, text: p.unit, color: '#222', font: { family: 'Liberation Sans', size: 11 },
                   padding: { top: 7, bottom: 0 } }
        }
      }
    }
  });
});

// grey watermark strokes lying over the lower-right of the source figure
const svgNS = 'http://www.w3.org/2000/svg';
const stamp = document.createElementNS(svgNS, 'svg');
stamp.setAttribute('id', 'stamp');
stamp.setAttribute('width', '669');
stamp.setAttribute('height', '1217');
['M 600 1090 L 487 948 L 568 884 Q 648 824 690 930',
 'M 600 1090 L 690 1016',
 'M 290 1228 L 384 1073 L 560 1236'].forEach(d => {
  const path = document.createElementNS(svgNS, 'path');
  path.setAttribute('d', d);
  path.setAttribute('fill', 'none');
  path.setAttribute('stroke', '#c2c2c2');
  path.setAttribute('stroke-opacity', '0.9');
  path.setAttribute('stroke-width', '24');
  path.setAttribute('stroke-linejoin', 'round');
  stamp.appendChild(path);
});
page.appendChild(stamp);

addDiv('xmark', {}, 'x');
addDiv('xtitle', {}, 'Time (s)');
</script>
</body>
</html>
